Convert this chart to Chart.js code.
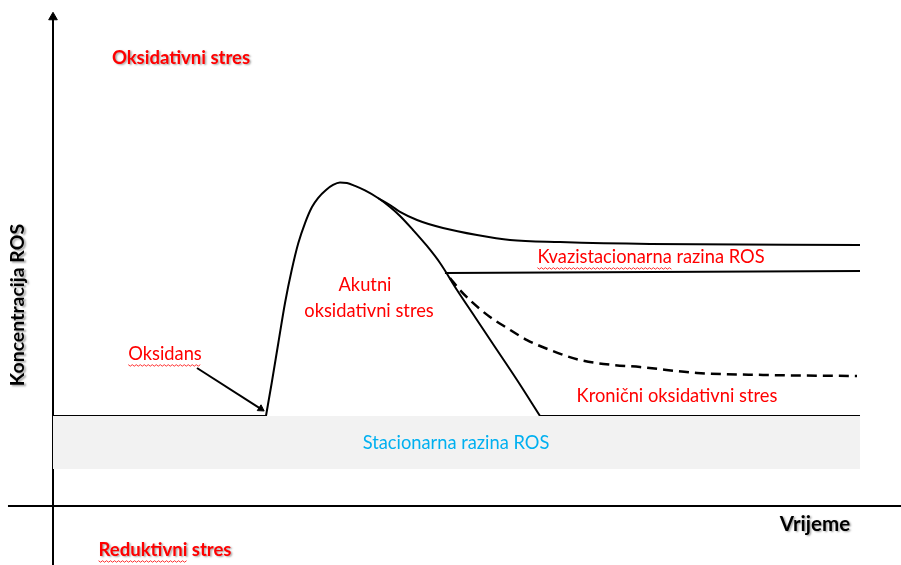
<!DOCTYPE html>
<html>
<head>
<meta charset="utf-8">
<script src="https://cdn.jsdelivr.net/npm/chart.js@4.4.1/dist/chart.umd.min.js"></script>
<style>
  body{margin:0;background:#fff}
  #wrap{width:901px;height:565px}
</style>
</head>
<body>
<div id="wrap"><canvas id="myChart" width="901" height="565"></canvas></div>
<script>
// time (x) / ROS concentration (y) in arbitrary units
var baseLeftX = [0, 26.39]
var baseLeftY = [1.0, 1.0]

var acuteX = [26.39, 27.10, 27.92, 28.75, 29.58, 30.40, 31.23, 32.09, 32.84, 33.83, 34.70, 35.56, 36.43, 37.42, 38.66, 40.27, 41.76, 43.0, 44.61, 46.34, 47.96, 50.06, 52.29, 54.52, 57.50, 60.35]
var acuteY = [1.0, 1.367, 1.811, 2.256, 2.622, 2.922, 3.144, 3.322, 3.422, 3.511, 3.567, 3.594, 3.589, 3.556, 3.506, 3.422, 3.322, 3.222, 3.067, 2.889, 2.7, 2.4, 2.1, 1.8, 1.4, 1.0]

var baseRightX = [60.35, 100]
var baseRightY = [1.0, 1.0]

var quasiX = [40.27, 41.76, 43.0, 45.11, 48.33, 52.54, 56.63, 62.83, 73.98, 100]
var quasiY = [3.422, 3.344, 3.267, 3.178, 3.089, 3.011, 2.956, 2.933, 2.911, 2.9]

var flatX = [48.57, 100]
var flatY = [2.589, 2.611]

var chronicX = [49.19, 50.43, 52.04, 54.15, 56.26, 58.74, 61.59, 65.30, 69.39, 72.74, 79.80, 87.98, 99.63]
var chronicY = [2.533, 2.4, 2.256, 2.1, 1.978, 1.844, 1.733, 1.622, 1.567, 1.544, 1.478, 1.456, 1.444]

var bandX = [0, 100]
var bandTop = [1.0, 1.0]
var bandBottom = [0.411, 0.411]

var oxidantX = [17.84, 25.75]
var oxidantY = [1.533, 1.08]

var texts = ['Oksidativni stres', 'Reduktivni stres', 'Vrijeme', 'Koncentracija ROS', 'Oksidans',
             'Akutni', 'oksidativni stres', 'Kvazistacionarna razina ROS', 'Kronični oksidativni stres', 'Stacionarna razina ROS']

function pts(xs, ys){
    var out = []
    for(let i=0;i<xs.length;i++) out.push({x:xs[i], y:ys[i]})
    return out
}

function line(xs, ys, extra){
    var ds = {data: pts(xs, ys), showLine:true, borderColor:'#000', borderWidth:2, pointRadius:0, fill:false, tension:0}
    for(var k in extra) ds[k] = extra[k]
    return ds
}

function arrowEnd(r){
    return function(ctx){ return ctx.dataIndex === ctx.dataset.data.length-1 ? r : 0 }
}

var labelPlugin = {
    id:'labels',
    afterDatasetsDraw(chart){
        var c = chart.ctx
        var sx = chart.scales.x, sy = chart.scales.y
        function put(txt, x, y, font, color, shadow, rot){
            c.save()
            c.font = font
            c.fillStyle = color
            c.textAlign = 'center'
            c.textBaseline = 'middle'
            c.translate(sx.getPixelForValue(x), sy.getPixelForValue(y))
            if(rot) c.rotate(rot)
            if(shadow){
                c.shadowColor = 'rgba(0,0,0,0.35)'
                c.shadowOffsetX = 1.5
                c.shadowOffsetY = 1.5
                c.shadowBlur = 2
            }
            c.fillText(txt, 0, 0)
            c.restore()
        }
        function squiggle(x, y, txt, font, part){
            c.save()
            c.font = font
            var w = c.measureText(txt).width
            var pw = c.measureText(part).width
            var x0 = sx.getPixelForValue(x) - w/2
            var yy = sy.getPixelForValue(y) + 11
            c.strokeStyle = '#ff3030'
            c.lineWidth = 1
            c.beginPath()
            for(var i=0;i<=pw;i+=2){
                var yv = yy + ((i/2)%2 ? 1.2 : -0.3)
                if(i===0) c.moveTo(x0+i, yv); else c.lineTo(x0+i, yv)
            }
            c.stroke()
            c.restore()
        }
        var bold = 'bold 18.5px Lato'
        var reg = '18.3px Lato'
        put(texts[0], 15.86, 4.978, bold, '#ff0000', true)
        put(texts[1], 13.88, -0.489, bold, '#ff0000', true)
        squiggle(13.88, -0.489, texts[1], bold, 'Reduktivni')
        put(texts[2], 94.42, -0.2, 'bold 20.5px Lato', '#000', true)
        put(texts[3], -4.34, 2.233, 'bold 19.5px Lato', '#000', true, -Math.PI/2)
        put(texts[4], 13.88, 1.689, reg, '#ff0000')
        squiggle(13.88, 1.689, texts[4], reg, texts[4])
        put(texts[5], 38.66, 2.456, reg, '#ff0000')
        put(texts[6], 39.16, 2.167, reg, '#ff0000')
        put(texts[7], 74.1, 2.767, reg, '#ff0000')
        squiggle(74.1, 2.767, texts[7], reg, 'Kvazistacionarna')
        put(texts[8], 77.32, 1.222, reg, '#ff0000')
        put(texts[9], 49.94, 0.7, reg, '#00b0f0')
    }
}

var ctx = document.getElementById('myChart').getContext('2d')
var myChart = new Chart(ctx, {
    type:'scatter',
    data:{
        datasets:[
            // grey band of stationary ROS level
            {data: pts(bandX, bandBottom), showLine:true, borderWidth:0, pointRadius:0, backgroundColor:'#f2f2f2', fill:false},
            {data: pts(bandX, bandTop), showLine:true, borderWidth:0, pointRadius:0, backgroundColor:'#f2f2f2', fill:'-1'},
            // axes
            line([0, 0], [-0.66, 5.43], {pointStyle:'triangle', pointRadius:arrowEnd(5), pointBackgroundColor:'#000', pointBorderColor:'#000', pointBorderWidth:1}),
            line([-5.58, 105.1], [0, 0]),
            // curves
            line(baseLeftX, baseLeftY),
            line(acuteX, acuteY, {cubicInterpolationMode:'monotone'}),
            line(baseRightX, baseRightY),
            line(quasiX, quasiY, {cubicInterpolationMode:'monotone'}),
            line(flatX, flatY),
            line(chronicX, chronicY, {cubicInterpolationMode:'monotone', borderDash:[10,6], borderWidth:2.5}),
            line(oxidantX, oxidantY, {pointStyle:'triangle', pointRotation:123, pointRadius:arrowEnd(4), pointBackgroundColor:'#000', pointBorderColor:'#000', pointBorderWidth:1})
        ]
    },
    options:{
        responsive:false,
        animation:false,
        devicePixelRatio:1,
        layout:{padding:0, autoPadding:false},
        plugins:{legend:{display:false}, tooltip:{enabled:false}},
        scales:{
            x:{type:'linear', display:false, min:-6.568, max:105.08},
            y:{type:'linear', display:false, min:-0.6556, max:5.622}
        }
    },
    plugins:[labelPlugin]
})
</script>
</body>
</html>
